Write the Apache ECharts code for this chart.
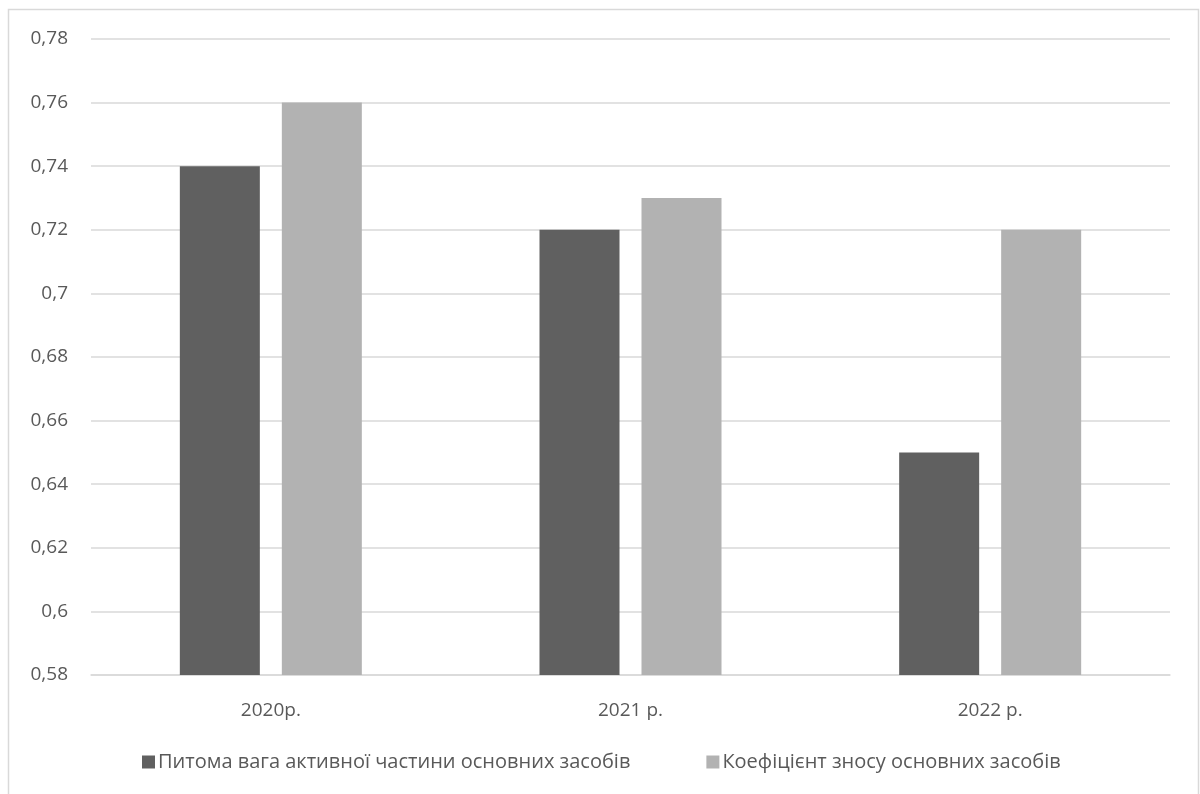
<!DOCTYPE html>
<html>
<head>
<meta charset="utf-8">
<script src="https://cdn.jsdelivr.net/npm/echarts@6/dist/echarts.min.js"></script>
<style>
html,body{margin:0;padding:0;background:#fff;}
#chart{width:1200px;height:794px;}
</style>
</head>
<body>
<div id="chart"></div>
<script>
const categories = ['2020р.', '2021 р.', '2022 р.'];
const seriesNames = ['Питома вага активної частини основних засобів', 'Коефіцієнт зносу основних засобів'];
const activeShare = [0.74, 0.72, 0.65];
const depreciation = [0.76, 0.73, 0.72];

const FONT = '"Open Sans", "Noto Sans", sans-serif';
const chart = echarts.init(document.getElementById('chart'), null, {renderer: 'canvas'});
const fmt = v => parseFloat(Number(v).toFixed(2)).toString().replace('.', ',');

chart.setOption({
  backgroundColor: '#ffffff',
  animation: false,
  graphic: [{
    type: 'rect',
    shape: {x: 8.5, y: 9.5, width: 1190, height: 800},
    style: {fill: 'none', stroke: '#d9d9d9', lineWidth: 1.5},
    silent: true
  }],
  grid: {left: 91, right: 30, top: 39, bottom: 119, containLabel: false},
  legend: {
    bottom: 17,
    left: 137,
    itemWidth: 13,
    itemHeight: 13,
    itemGap: 76,
    icon: 'rect',
    textStyle: {color: '#595959', fontSize: 20, fontFamily: FONT, padding: [0, 0, 0, -2]},
    data: seriesNames
  },
  xAxis: {
    type: 'category',
    data: categories,
    axisLine: {lineStyle: {color: '#d9d9d9', width: 1.5}},
    axisTick: {show: false},
    axisLabel: {color: '#595959', fontSize: 19, fontFamily: FONT, margin: 26}
  },
  yAxis: {
    type: 'value',
    min: 0.58,
    max: 0.78,
    interval: 0.02,
    axisLine: {show: false},
    axisTick: {show: false},
    splitLine: {lineStyle: {color: '#d9d9d9', width: 1.5}},
    axisLabel: {color: '#595959', fontSize: 19, fontFamily: FONT, margin: 23, formatter: fmt}
  },
  series: [
    {name: seriesNames[0], type: 'bar', data: activeShare, barWidth: 80, barGap: '27.5%', itemStyle: {color: '#606060'}},
    {name: seriesNames[1], type: 'bar', data: depreciation, barWidth: 80, barGap: '27.5%', itemStyle: {color: '#b2b2b2'}}
  ]
});
</script>
</body>
</html>
